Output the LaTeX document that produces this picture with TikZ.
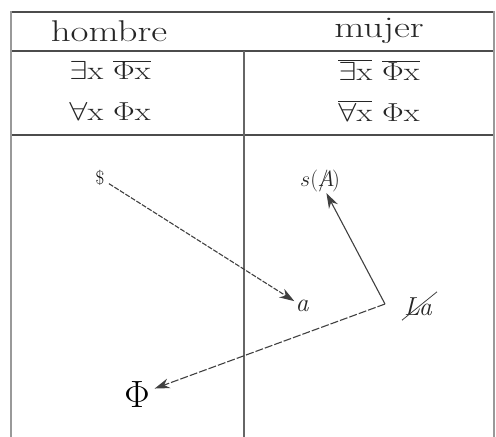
\RequirePackage{fix-cm}
\documentclass[tikz,border=0pt]{standalone}
\usepackage{fontspec}
\usepackage{graphicx}
\usetikzlibrary{arrows.meta}
\newcommand{\wide}[1]{\scalebox{1.25}[1]{#1}}
\newcommand{\wider}[1]{\scalebox{1.3}[1]{#1}}
\tikzset{
 rule/.style={draw=black!70, line width=1.8pt},
 midrule/.style={draw=black!60, line width=1.8pt},
 border/.style={draw=black!40, line width=2.5pt},
 head/.style={font=\fontsize{26}{30}\selectfont, text=black!85, inner sep=0pt},
 title/.style={font=\fontsize{30}{34}\selectfont, text=black!85, inner sep=0pt},
 lab/.style={font=\fontsize{26}{30}\selectfont\itshape, inner sep=1pt, text=black!85},
 arr/.style={-{Stealth[length=15pt,width=10pt]}, line width=1.1pt, draw=black!75},
 dsh/.style={dash pattern=on 5pt off 1.5pt},
 dshb/.style={dash pattern=on 8pt off 2pt},
}
\begin{document}
\begin{tikzpicture}[x=1pt,y=-1pt]
\useasboundingbox (0,0) rectangle (496,437);
% table
\draw[rule] (11,12) -- (494,12);
\draw[rule] (11,51) -- (494,51);
\draw[rule] (11,135) -- (494,135);
\draw[midrule] (244,51) -- (244,437);
\draw[border] (11,11) -- (11,437);
\draw[border] (494,11) -- (494,437);
% header
\node[title] (h1) at (109,31) {\wider{hombre}};
\node[title] (h2) at (379,31) {\wider{mujer}};
% formulas
\node[head] (l1) at (110,70) {\wide{$\exists\mathrm{x}\ \overline{\Phi\mathrm{x}}$}};
\node[head] (l2) at (110,111) {\wide{$\forall\mathrm{x}\ \Phi\mathrm{x}$}};
\node[head] (r1) at (379,70) {\wide{$\overline{\exists\mathrm{x}}\ \overline{\Phi\mathrm{x}}$}};
\node[head] (r2) at (379,111) {\wide{$\overline{\forall\mathrm{x}}\ \Phi\mathrm{x}$}};
% lower part
\node[font=\fontsize{19}{22}\selectfont, inner sep=1pt] (S) at (100,178) {\$};
\node[lab] (a) at (302,306) {a};
\node[font=\fontsize{22}{26}\selectfont, inner sep=1pt, text=black!85] (sA) at (320,181) {$s(A\mkern-13mu/\mkern3mu)$};
\node[lab] (La) at (418,307) {La};
\draw[line width=0.8pt, black!75] (La.south west) ++(-1,3) -- ([shift={(4,-5)}]La.north east);
\node[font=\fontsize{38}{42}\selectfont, inner sep=1pt] (Phi) at (137,395) {$\Phi$};
\coordinate (k) at (385,304);
% arrows
\draw[arr,dsh,shorten <=4pt] (S) -- (a);
\draw[arr] (k) -- (sA);
\draw[arr,dshb,shorten >=4pt] (k) -- (Phi);
\end{tikzpicture}
\end{document}
